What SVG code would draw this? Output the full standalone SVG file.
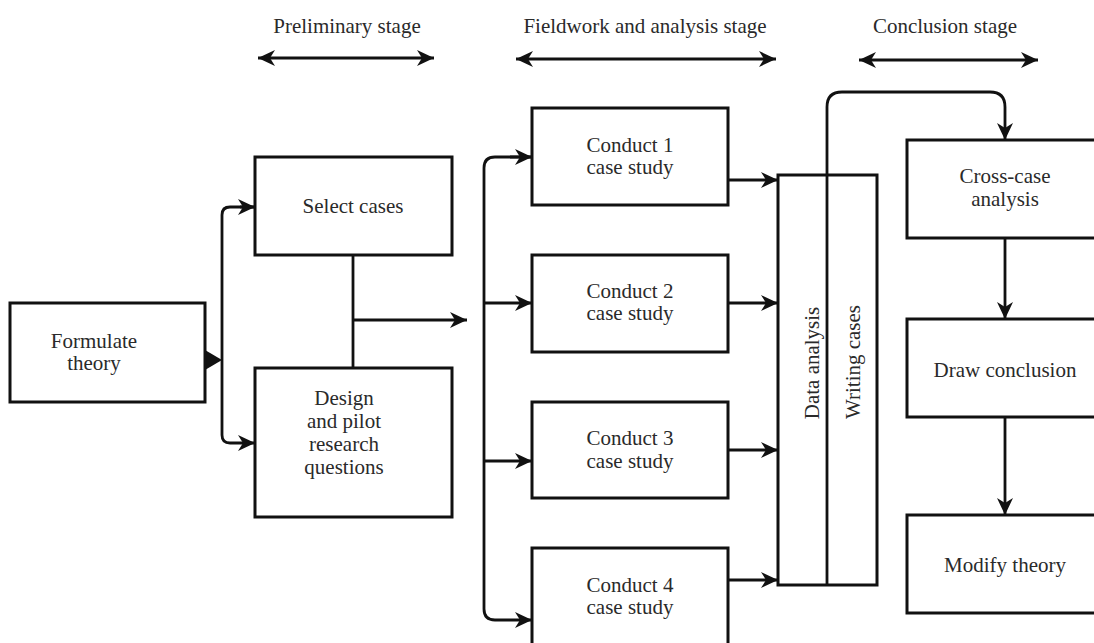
<svg xmlns="http://www.w3.org/2000/svg" width="1094" height="643" viewBox="0 0 1094 643">
<defs>
<style>
.box{fill:#fff;stroke:#111;stroke-width:3}
.con{fill:none;stroke:#111;stroke-width:2.8}
.t{font-family:"Liberation Serif","Times New Roman",serif;font-size:21px;fill:#2a2a2a;text-anchor:middle}
</style>
<marker id="ah" markerUnits="userSpaceOnUse" markerWidth="18" markerHeight="16" refX="17" refY="8" orient="auto">
<path d="M0,0 L17,8 L0,16 L5,8 Z" fill="#111"/>
</marker>
<marker id="ahs" markerUnits="userSpaceOnUse" markerWidth="18" markerHeight="16" refX="17" refY="8" orient="auto-start-reverse">
<path d="M0,0 L17,8 L0,16 L5,8 Z" fill="#111"/>
</marker>
</defs>
<rect width="1094" height="643" fill="#fff"/>

<g id="stages">
<text class="t" x="347" y="33">Preliminary stage</text>
<text class="t" x="645" y="33">Fieldwork and analysis stage</text>
<text class="t" x="945" y="33">Conclusion stage</text>
</g>

<g id="connectors">
<line class="con" x1="258" y1="58" x2="434" y2="58" marker-start="url(#ahs)" marker-end="url(#ah)"/>
<line class="con" x1="516" y1="59" x2="776" y2="59" marker-start="url(#ahs)" marker-end="url(#ah)"/>
<line class="con" x1="859" y1="60" x2="1038" y2="60" marker-start="url(#ahs)" marker-end="url(#ah)"/>
<path d="M205,350 L222,360 L205,370 Z" fill="#111"/>
<path class="con" d="M255,207 H230 Q222,207 222,215 V435 Q222,443 230,443 H255" marker-end="url(#ah)"/>
<line class="con" x1="240" y1="207" x2="255" y2="207" marker-end="url(#ah)"/>
<line class="con" x1="353" y1="255" x2="353" y2="368"/>
<line class="con" x1="353" y1="320" x2="467" y2="320" marker-end="url(#ah)"/>
<path class="con" d="M532,157 H495 Q484,157 484,168 V609 Q484,620 495,620 H532" marker-end="url(#ah)"/>
<line class="con" x1="510" y1="157" x2="532" y2="157" marker-end="url(#ah)"/>
<line class="con" x1="484" y1="303" x2="532" y2="303" marker-end="url(#ah)"/>
<line class="con" x1="484" y1="461" x2="532" y2="461" marker-end="url(#ah)"/>
<line class="con" x1="728" y1="180" x2="778" y2="180" marker-end="url(#ah)"/>
<line class="con" x1="728" y1="303" x2="778" y2="303" marker-end="url(#ah)"/>
<line class="con" x1="728" y1="450" x2="778" y2="450" marker-end="url(#ah)"/>
<line class="con" x1="728" y1="580" x2="778" y2="580" marker-end="url(#ah)"/>
<line class="con" x1="1005" y1="238" x2="1005" y2="319" marker-end="url(#ah)"/>
<line class="con" x1="1005" y1="417" x2="1005" y2="515" marker-end="url(#ah)"/>
</g>

<g id="formulate">
<rect class="box" x="10" y="303" width="195" height="99"/>
<text class="t" x="94" y="348">Formulate</text>
<text class="t" x="94" y="370">theory</text>
</g>
<g id="select">
<rect class="box" x="255" y="157" width="197" height="98"/>
<text class="t" x="353" y="213">Select cases</text>
</g>
<g id="design">
<rect class="box" x="255" y="368" width="197" height="149"/>
<text class="t" x="344" y="405">Design</text>
<text class="t" x="344" y="428">and pilot</text>
<text class="t" x="344" y="451">research</text>
<text class="t" x="344" y="474">questions</text>
</g>
<g id="conduct1">
<rect class="box" x="532" y="108" width="196" height="97"/>
<text class="t" x="630" y="152">Conduct 1</text>
<text class="t" x="630" y="174">case study</text>
</g>
<g id="conduct2">
<rect class="box" x="532" y="255" width="196" height="97"/>
<text class="t" x="630" y="298">Conduct 2</text>
<text class="t" x="630" y="320">case study</text>
</g>
<g id="conduct3">
<rect class="box" x="532" y="402" width="196" height="96"/>
<text class="t" x="630" y="445">Conduct 3</text>
<text class="t" x="630" y="468">case study</text>
</g>
<g id="conduct4">
<rect class="box" x="532" y="548" width="196" height="98"/>
<text class="t" x="630" y="592">Conduct 4</text>
<text class="t" x="630" y="614">case study</text>
</g>
<g id="analysis">
<rect class="box" x="778" y="175" width="99" height="410"/>
<text class="t" transform="translate(819,363) rotate(-90)">Data analysis</text>
<text class="t" transform="translate(860,362) rotate(-90)">Writing cases</text>
</g>
<g id="loop">
<path class="con" d="M827,585 V107 Q827,92 842,92 H990 Q1005,92 1005,107 V140" marker-end="url(#ah)"/>
</g>
<g id="crosscase">
<rect class="box" x="907" y="140" width="196" height="98"/>
<text class="t" x="1005" y="183">Cross-case</text>
<text class="t" x="1005" y="206">analysis</text>
</g>
<g id="draw">
<rect class="box" x="907" y="319" width="196" height="98"/>
<text class="t" x="1005" y="377">Draw conclusion</text>
</g>
<g id="modify">
<rect class="box" x="907" y="515" width="196" height="98"/>
<text class="t" x="1005" y="572">Modify theory</text>
</g>
</svg>
